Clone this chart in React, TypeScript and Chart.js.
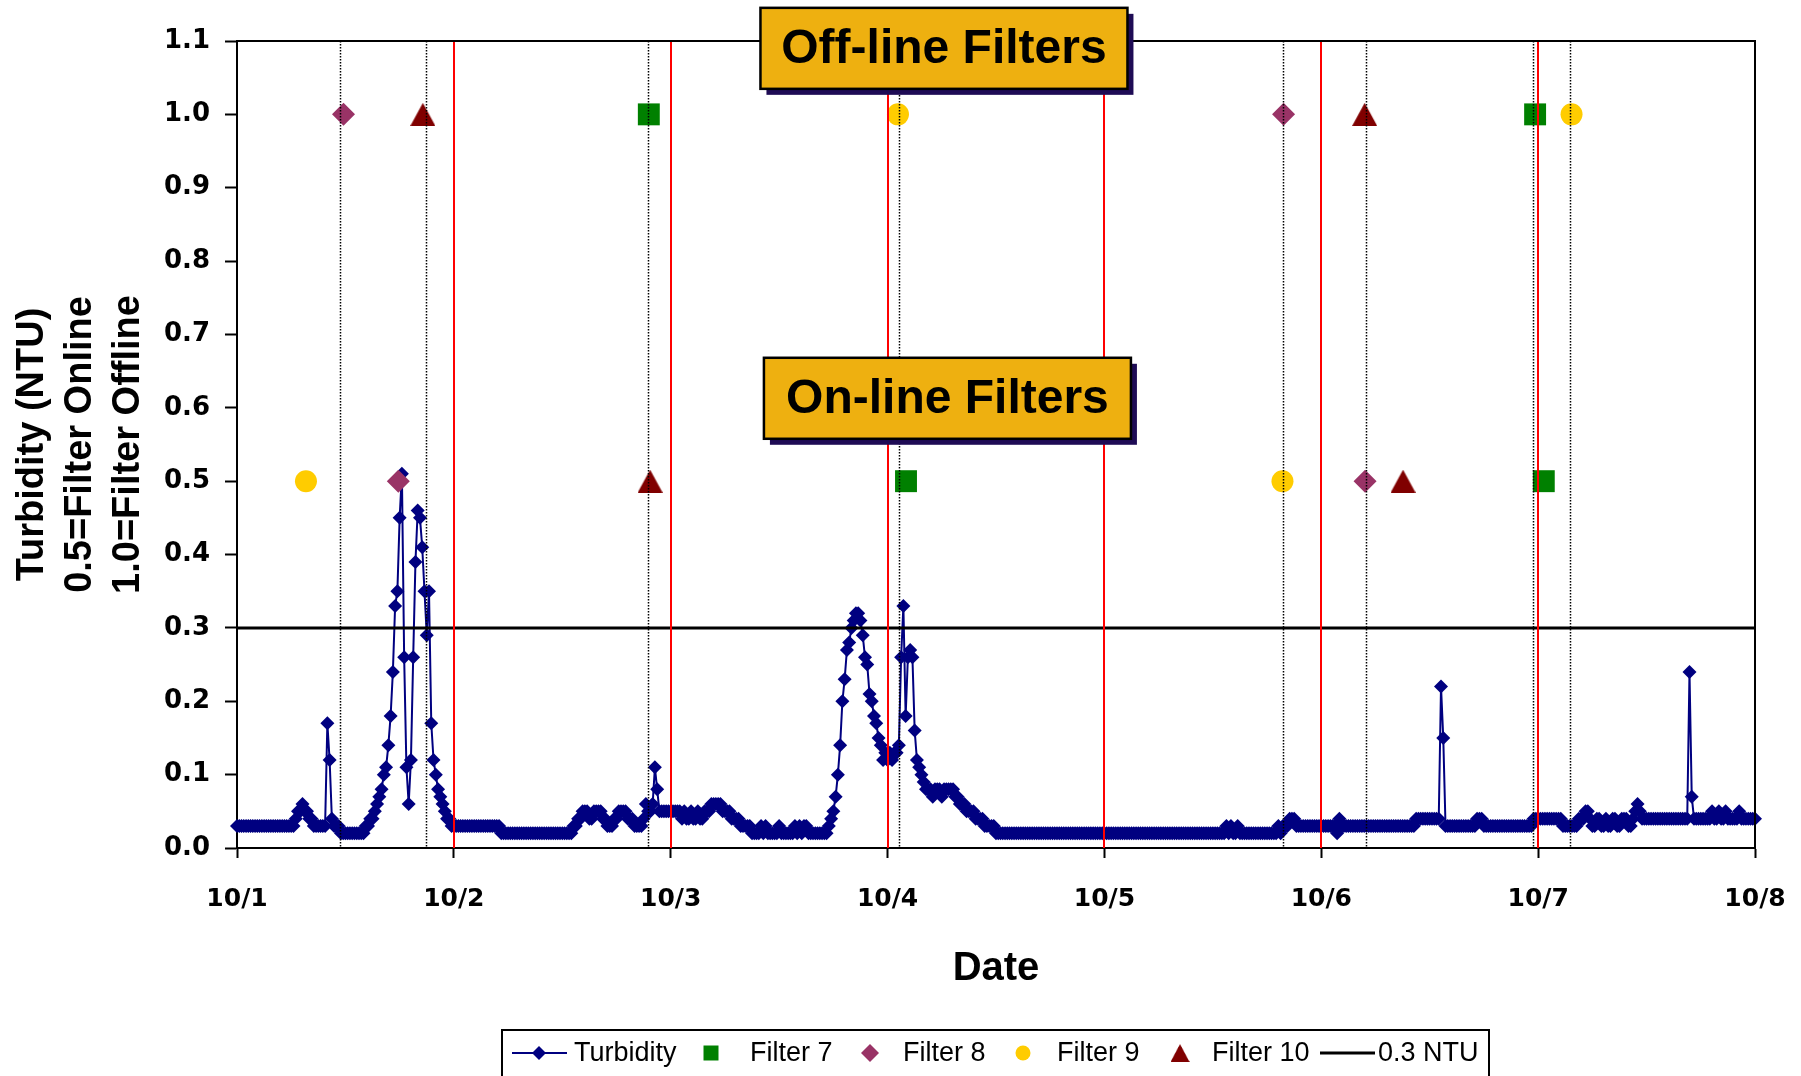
import React, { useEffect, useRef } from 'react';
import { Chart, registerables } from 'chart.js';

Chart.register(...registerables);

// ---------- DATA ----------
const readingsPerDay = 96; // 15-minute turbidity readings
const xTickLabels = ['10/1', '10/2', '10/3', '10/4', '10/5', '10/6', '10/7', '10/8'];

const turbidityOct1 = [
  0.03, 0.03, 0.03, 0.03, 0.03, 0.03, 0.03, 0.03,
  0.03, 0.03, 0.03, 0.03, 0.03, 0.03, 0.03, 0.03,
  0.03, 0.03, 0.03, 0.03, 0.03, 0.03, 0.03, 0.03,
  0.03, 0.03, 0.04, 0.05, 0.05, 0.06, 0.05, 0.05,
  0.04, 0.04, 0.03, 0.03, 0.03, 0.03, 0.03, 0.03,
  0.17, 0.12, 0.04, 0.03, 0.03, 0.03, 0.02, 0.02,
  0.02, 0.02, 0.02, 0.02, 0.02, 0.02, 0.02, 0.02,
  0.02, 0.03, 0.03, 0.04, 0.04, 0.05, 0.06, 0.07,
  0.08, 0.10, 0.11, 0.14, 0.18, 0.24, 0.33, 0.35,
  0.45, 0.51, 0.26, 0.11, 0.06, 0.12, 0.26, 0.39,
  0.46, 0.45, 0.41, 0.35, 0.29, 0.35, 0.17, 0.12,
  0.10, 0.08, 0.07, 0.06, 0.05, 0.04, 0.04, 0.03,
];
const turbidityOct2 = [
  0.03, 0.03, 0.03, 0.03, 0.03, 0.03, 0.03, 0.03,
  0.03, 0.03, 0.03, 0.03, 0.03, 0.03, 0.03, 0.03,
  0.03, 0.03, 0.03, 0.03, 0.03, 0.02, 0.02, 0.02,
  0.02, 0.02, 0.02, 0.02, 0.02, 0.02, 0.02, 0.02,
  0.02, 0.02, 0.02, 0.02, 0.02, 0.02, 0.02, 0.02,
  0.02, 0.02, 0.02, 0.02, 0.02, 0.02, 0.02, 0.02,
  0.02, 0.02, 0.02, 0.02, 0.02, 0.03, 0.03, 0.04,
  0.04, 0.05, 0.05, 0.05, 0.04, 0.04, 0.05, 0.05,
  0.05, 0.05, 0.04, 0.04, 0.03, 0.03, 0.03, 0.04,
  0.04, 0.05, 0.05, 0.05, 0.05, 0.04, 0.04, 0.04,
  0.03, 0.03, 0.03, 0.03, 0.04, 0.06, 0.05, 0.05,
  0.06, 0.11, 0.08, 0.05, 0.05, 0.05, 0.05, 0.05,
];
const turbidityOct3 = [
  0.05, 0.05, 0.05, 0.05, 0.05, 0.04, 0.05, 0.04,
  0.04, 0.05, 0.04, 0.04, 0.05, 0.04, 0.04, 0.05,
  0.05, 0.05, 0.06, 0.06, 0.06, 0.06, 0.06, 0.05,
  0.05, 0.05, 0.05, 0.04, 0.04, 0.04, 0.04, 0.03,
  0.03, 0.03, 0.03, 0.03, 0.02, 0.02, 0.02, 0.02,
  0.03, 0.02, 0.03, 0.02, 0.02, 0.02, 0.02, 0.02,
  0.03, 0.02, 0.02, 0.02, 0.02, 0.02, 0.02, 0.03,
  0.02, 0.03, 0.02, 0.03, 0.03, 0.02, 0.02, 0.02,
  0.02, 0.02, 0.02, 0.02, 0.02, 0.02, 0.03, 0.04,
  0.05, 0.07, 0.10, 0.14, 0.20, 0.23, 0.27, 0.28,
  0.30, 0.31, 0.32, 0.32, 0.31, 0.29, 0.26, 0.25,
  0.21, 0.20, 0.18, 0.17, 0.15, 0.14, 0.12, 0.13,
];
const turbidityOct4 = [
  0.12, 0.13, 0.12, 0.13, 0.13, 0.14, 0.26, 0.33,
  0.18, 0.26, 0.27, 0.26, 0.16, 0.12, 0.11, 0.10,
  0.09, 0.08, 0.08, 0.08, 0.07, 0.08, 0.08, 0.08,
  0.07, 0.08, 0.08, 0.08, 0.08, 0.08, 0.07, 0.07,
  0.06, 0.06, 0.06, 0.05, 0.05, 0.05, 0.05, 0.04,
  0.04, 0.04, 0.04, 0.03, 0.03, 0.03, 0.03, 0.03,
  0.02, 0.02, 0.02, 0.02, 0.02, 0.02, 0.02, 0.02,
  0.02, 0.02, 0.02, 0.02, 0.02, 0.02, 0.02, 0.02,
  0.02, 0.02, 0.02, 0.02, 0.02, 0.02, 0.02, 0.02,
  0.02, 0.02, 0.02, 0.02, 0.02, 0.02, 0.02, 0.02,
  0.02, 0.02, 0.02, 0.02, 0.02, 0.02, 0.02, 0.02,
  0.02, 0.02, 0.02, 0.02, 0.02, 0.02, 0.02, 0.02,
];
const turbidityOct5 = [
  0.02, 0.02, 0.02, 0.02, 0.02, 0.02, 0.02, 0.02,
  0.02, 0.02, 0.02, 0.02, 0.02, 0.02, 0.02, 0.02,
  0.02, 0.02, 0.02, 0.02, 0.02, 0.02, 0.02, 0.02,
  0.02, 0.02, 0.02, 0.02, 0.02, 0.02, 0.02, 0.02,
  0.02, 0.02, 0.02, 0.02, 0.02, 0.02, 0.02, 0.02,
  0.02, 0.02, 0.02, 0.02, 0.02, 0.02, 0.02, 0.02,
  0.02, 0.02, 0.02, 0.02, 0.02, 0.02, 0.03, 0.02,
  0.03, 0.02, 0.02, 0.03, 0.02, 0.02, 0.02, 0.02,
  0.02, 0.02, 0.02, 0.02, 0.02, 0.02, 0.02, 0.02,
  0.02, 0.02, 0.02, 0.02, 0.02, 0.03, 0.02, 0.03,
  0.03, 0.03, 0.04, 0.04, 0.04, 0.03, 0.03, 0.03,
  0.03, 0.03, 0.03, 0.03, 0.03, 0.03, 0.03, 0.03,
];
const turbidityOct6 = [
  0.03, 0.03, 0.03, 0.03, 0.03, 0.03, 0.03, 0.02,
  0.04, 0.03, 0.03, 0.03, 0.03, 0.03, 0.03, 0.03,
  0.03, 0.03, 0.03, 0.03, 0.03, 0.03, 0.03, 0.03,
  0.03, 0.03, 0.03, 0.03, 0.03, 0.03, 0.03, 0.03,
  0.03, 0.03, 0.03, 0.03, 0.03, 0.03, 0.03, 0.03,
  0.03, 0.03, 0.04, 0.04, 0.04, 0.04, 0.04, 0.04,
  0.04, 0.04, 0.04, 0.04, 0.04, 0.22, 0.15, 0.03,
  0.03, 0.03, 0.03, 0.03, 0.03, 0.03, 0.03, 0.03,
  0.03, 0.03, 0.03, 0.03, 0.03, 0.04, 0.04, 0.04,
  0.03, 0.03, 0.03, 0.03, 0.03, 0.03, 0.03, 0.03,
  0.03, 0.03, 0.03, 0.03, 0.03, 0.03, 0.03, 0.03,
  0.03, 0.03, 0.03, 0.03, 0.03, 0.03, 0.04, 0.04,
];
const turbidityOct7 = [
  0.04, 0.04, 0.04, 0.04, 0.04, 0.04, 0.04, 0.04,
  0.04, 0.04, 0.04, 0.03, 0.03, 0.03, 0.03, 0.03,
  0.03, 0.03, 0.04, 0.04, 0.04, 0.05, 0.05, 0.04,
  0.03, 0.03, 0.04, 0.04, 0.03, 0.03, 0.04, 0.03,
  0.03, 0.04, 0.04, 0.03, 0.03, 0.04, 0.04, 0.04,
  0.03, 0.03, 0.04, 0.05, 0.06, 0.05, 0.04, 0.04,
  0.04, 0.04, 0.04, 0.04, 0.04, 0.04, 0.04, 0.04,
  0.04, 0.04, 0.04, 0.04, 0.04, 0.04, 0.04, 0.04,
  0.04, 0.04, 0.04, 0.24, 0.07, 0.04, 0.04, 0.04,
  0.04, 0.04, 0.04, 0.04, 0.04, 0.05, 0.04, 0.04,
  0.05, 0.04, 0.04, 0.05, 0.04, 0.04, 0.04, 0.04,
  0.04, 0.05, 0.04, 0.04, 0.04, 0.04, 0.04, 0.04,
  0.04,
];
const turbidityByDay = [
  turbidityOct1, turbidityOct2, turbidityOct3, turbidityOct4,
  turbidityOct5, turbidityOct6, turbidityOct7,
];

// Filter status: 1.0 = offline, 0.5 = online; time in days from 10/1 00:00
const filter7Time = [1.899, 3.085, 5.986, 6.026];
const filter7Status = [1.0, 0.5, 1.0, 0.5];
const filter8Time = [0.491, 0.744, 4.826, 5.202];
const filter8Status = [1.0, 0.5, 1.0, 0.5];
const filter9Time = [0.318, 3.048, 4.821, 6.154];
const filter9Status = [0.5, 1.0, 0.5, 1.0];
const filter10Time = [0.857, 1.905, 5.2, 5.377];
const filter10Status = [1.0, 0.5, 1.0, 0.5];

const ntuLimit = 0.3;
const ntuLineSpan = [0, 7];

const offlineEventTimes = [0.473, 0.87, 1.894, 3.054, 4.824, 5.208, 5.974, 6.149];
const dayBoundaries = [1, 2, 3, 4, 5, 6];

const calloutLabels = ['Off-line Filters', 'On-line Filters'];
const calloutTime = [3.26, 3.276];
const calloutLevel = [1.09, 0.613];

// ---------- HELPERS ----------
const ARIAL = '"Liberation Sans", Arial, sans-serif';
const VERDANA = '"DejaVu Sans", Verdana, sans-serif';

function pair(times: number[], vals: number[]) {
  return times.map((t, i) => ({ x: t, y: vals[i] }));
}

const turbidityPoints = turbidityByDay.flatMap((vals, d) =>
  vals.map((v, i) => ({ x: d + i / readingsPerDay, y: v }))
);

// triangle marker whose bounding box is centred on the point (Excel style)
function makeTriangle(w: number, h: number, color: string) {
  const c = document.createElement('canvas');
  c.width = w;
  c.height = h;
  const g = c.getContext('2d')!;
  g.fillStyle = color;
  g.beginPath();
  g.moveTo(w / 2, 0);
  g.lineTo(w, h);
  g.lineTo(0, h);
  g.closePath();
  g.fill();
  return c;
}

function drawShape(ctx: CanvasRenderingContext2D, style: any, cx: number, cy: number, s: number) {
  if (typeof style !== 'string') {
    const w = s * 2;
    const h = s * 1.9;
    ctx.drawImage(style, cx - w / 2, cy - h / 2, w, h);
    return;
  }
  ctx.beginPath();
  if (style === 'rect') {
    ctx.rect(cx - s, cy - s, 2 * s, 2 * s);
  } else if (style === 'rectRot') {
    ctx.moveTo(cx - s, cy);
    ctx.lineTo(cx, cy - s);
    ctx.lineTo(cx + s, cy);
    ctx.lineTo(cx, cy + s);
    ctx.closePath();
  } else if (style === 'circle') {
    ctx.arc(cx, cy, s, 0, Math.PI * 2);
  }
  ctx.fill();
}

const overlayPlugin = {
  id: 'overlay',
  afterDatasetsDraw(chart: any) {
    const { ctx, chartArea: a } = chart;
    const x = chart.scales.x;
    ctx.save();
    ctx.strokeStyle = '#FF0000';
    ctx.lineWidth = 2;
    for (const d of dayBoundaries) {
      const px = Math.round(x.getPixelForValue(d));
      ctx.beginPath();
      ctx.moveTo(px, a.top);
      ctx.lineTo(px, a.bottom);
      ctx.stroke();
    }
    ctx.strokeStyle = '#000';
    ctx.lineWidth = 1.5;
    ctx.setLineDash([1.5, 1.5]);
    for (const t of offlineEventTimes) {
      const px = Math.round(x.getPixelForValue(t)) + 0.5;
      ctx.beginPath();
      ctx.moveTo(px, a.top);
      ctx.lineTo(px, a.bottom);
      ctx.stroke();
    }
    ctx.setLineDash([]);
    ctx.strokeStyle = '#000';
    ctx.lineWidth = 2;
    ctx.beginPath();
    ctx.moveTo(a.left, a.top);
    ctx.lineTo(a.right, a.top);
    ctx.lineTo(a.right, a.bottom);
    ctx.stroke();
    ctx.restore();
  },
  afterDraw(chart: any) {
    const { ctx } = chart;
    const x = chart.scales.x;
    const y = chart.scales.y;
    ctx.save();
    const w = 367;
    const h = 81;
    ctx.font = `bold 48px ${ARIAL}`;
    ctx.textAlign = 'center';
    ctx.textBaseline = 'middle';
    calloutLabels.forEach((label, i) => {
      const cx = x.getPixelForValue(calloutTime[i]);
      const cy = y.getPixelForValue(calloutLevel[i]);
      const l = cx - w / 2;
      const t = cy - h / 2;
      ctx.fillStyle = '#1E0B55';
      ctx.fillRect(l + 6, t + 6, w, h);
      ctx.fillStyle = '#EEB010';
      ctx.fillRect(l, t, w, h);
      ctx.strokeStyle = '#000';
      ctx.lineWidth = 2.5;
      ctx.strokeRect(l, t, w, h);
      ctx.fillStyle = '#000';
      ctx.fillText(label, cx, cy + 1.5);
    });

    // legend
    const ds = chart.data.datasets;
    const boxL = 502, boxT = 1030, boxR = 1489, boxB = 1092;
    ctx.strokeStyle = '#000';
    ctx.lineWidth = 2;
    ctx.strokeRect(boxL, boxT, boxR - boxL, boxB - boxT);
    const ly = 1053;
    const symbolCenters = [539, 711, 870, 1023, 1180, 1347];
    const textStarts = [574, 750, 903, 1057, 1212, 1378];
    const legendSize: Record<string, number> = { rect: 7.5, rectRot: 9, circle: 7.5 };
    ctx.font = `27px ${ARIAL}`;
    ctx.textAlign = 'left';
    ctx.textBaseline = 'middle';
    ds.forEach((d: any, k: number) => {
      const cx = symbolCenters[k];
      if (d.showLine) {
        ctx.strokeStyle = d.borderColor;
        ctx.lineWidth = d.borderWidth;
        ctx.beginPath();
        ctx.moveTo(cx - 27, ly);
        ctx.lineTo(cx + 28, ly);
        ctx.stroke();
      }
      if (d.pointRadius > 0) {
        ctx.fillStyle = d.pointBackgroundColor;
        const s = d.showLine ? 7 : (typeof d.pointStyle === 'string' ? legendSize[d.pointStyle] : 9.5);
        drawShape(ctx, d.pointStyle, cx, ly, s);
      }
      ctx.fillStyle = '#000';
      ctx.fillText(d.label, textStarts[k], ly + 1);
    });
    ctx.restore();
  },
};

export default function App() {
  const ref = useRef<HTMLCanvasElement>(null);

  useEffect(() => {
    const canvas = ref.current;
    if (!canvas) return;
    const triangle = makeTriangle(25, 23, '#800000');
    const chart = new Chart(canvas, {
      type: 'scatter',
      data: {
        datasets: [
          {
            label: 'Turbidity',
            data: turbidityPoints,
            showLine: true,
            borderColor: '#000080',
            backgroundColor: '#000080',
            borderWidth: 2,
            pointStyle: 'rectRot',
            pointRadius: 7,
            pointBorderWidth: 0,
            pointBackgroundColor: '#000080',
            tension: 0,
            clip: false,
            order: 3,
          },
          {
            label: 'Filter 7',
            data: pair(filter7Time, filter7Status),
            showLine: false,
            pointStyle: 'rect',
            pointRadius: 15.5,
            pointBorderWidth: 0,
            pointBackgroundColor: '#008000',
            backgroundColor: '#008000',
            clip: false,
            order: 1,
          },
          {
            label: 'Filter 8',
            data: pair(filter8Time, filter8Status),
            showLine: false,
            pointStyle: 'rectRot',
            pointRadius: 11.5,
            pointBorderWidth: 0,
            pointBackgroundColor: '#993366',
            backgroundColor: '#993366',
            clip: false,
            order: 1,
          },
          {
            label: 'Filter 9',
            data: pair(filter9Time, filter9Status),
            showLine: false,
            pointStyle: 'circle',
            pointRadius: 11,
            pointBorderWidth: 0,
            pointBackgroundColor: '#FFCC00',
            backgroundColor: '#FFCC00',
            clip: false,
            order: 1,
          },
          {
            label: 'Filter 10',
            data: pair(filter10Time, filter10Status),
            showLine: false,
            pointStyle: triangle,
            pointRadius: 13,
            pointBorderWidth: 0,
            pointBackgroundColor: '#800000',
            backgroundColor: '#800000',
            clip: false,
            order: 1,
          },
          {
            label: '0.3 NTU',
            data: ntuLineSpan.map((t) => ({ x: t, y: ntuLimit })),
            showLine: true,
            borderColor: '#000000',
            borderWidth: 3,
            pointRadius: 0,
            pointBackgroundColor: '#000000',
            clip: false,
            order: 2,
          },
        ] as any,
      },
      options: {
        animation: false,
        responsive: false,
        devicePixelRatio: 1,
        events: [],
        layout: { padding: { left: 0, top: 41, right: 46, bottom: 83 } },
        plugins: {
          legend: { display: false },
          tooltip: { enabled: false },
          title: { display: false },
        },
        scales: {
          x: {
            type: 'linear',
            min: 0,
            max: 7,
            afterFit: (s: any) => {
              s.height = 145;
              s.paddingLeft = 0;
              s.paddingRight = 0;
            },
            border: { display: true, color: '#000', width: 2 },
            grid: {
              display: true,
              drawOnChartArea: false,
              drawTicks: true,
              tickLength: 10,
              tickColor: '#000',
              tickWidth: 2,
              color: '#000',
            },
            ticks: {
              stepSize: 1,
              autoSkip: false,
              maxRotation: 0,
              minRotation: 0,
              padding: 26,
              color: '#000',
              font: { family: VERDANA, size: 25, weight: 'bold' },
              callback: (v: any) => xTickLabels[Math.round(Number(v))] ?? '',
            },
            title: {
              display: true,
              text: 'Date',
              color: '#000',
              font: { family: ARIAL, size: 40, weight: 'bold', lineHeight: 1.2 },
              padding: { top: 0, bottom: 0 },
            },
          },
          y: {
            type: 'linear',
            min: 0,
            max: 1.1,
            afterFit: (s: any) => {
              s.width = 237;
              s.paddingTop = 0;
              s.paddingBottom = 0;
            },
            border: { display: true, color: '#000', width: 2 },
            grid: {
              display: true,
              drawOnChartArea: false,
              drawTicks: true,
              tickLength: 12,
              tickColor: '#000',
              tickWidth: 2,
              color: '#000',
            },
            ticks: {
              stepSize: 0.1,
              autoSkip: false,
              padding: 15,
              color: '#000',
              font: { family: VERDANA, size: 26, weight: 'bold' },
              callback: (v: any) => Number(v).toFixed(1),
            },
            title: {
              display: true,
              text: ['Turbidity (NTU)', '0.5=Filter Online', '1.0=Filter Offline'],
              color: '#000',
              font: { family: ARIAL, size: 38, weight: 'bold', lineHeight: 48 / 38 },
              padding: { top: 9, bottom: 0 },
            },
          },
        },
      } as any,
      plugins: [overlayPlugin],
    });
    return () => chart.destroy();
  }, []);

  return (
    <div style={{ position: 'fixed', left: 0, top: 0, width: 1801, height: 1076, background: '#fff', overflow: 'hidden' }}>
      <canvas ref={ref} width={1801} height={1076} style={{ display: 'block', width: 1801, height: 1076 }} />
    </div>
  );
}
